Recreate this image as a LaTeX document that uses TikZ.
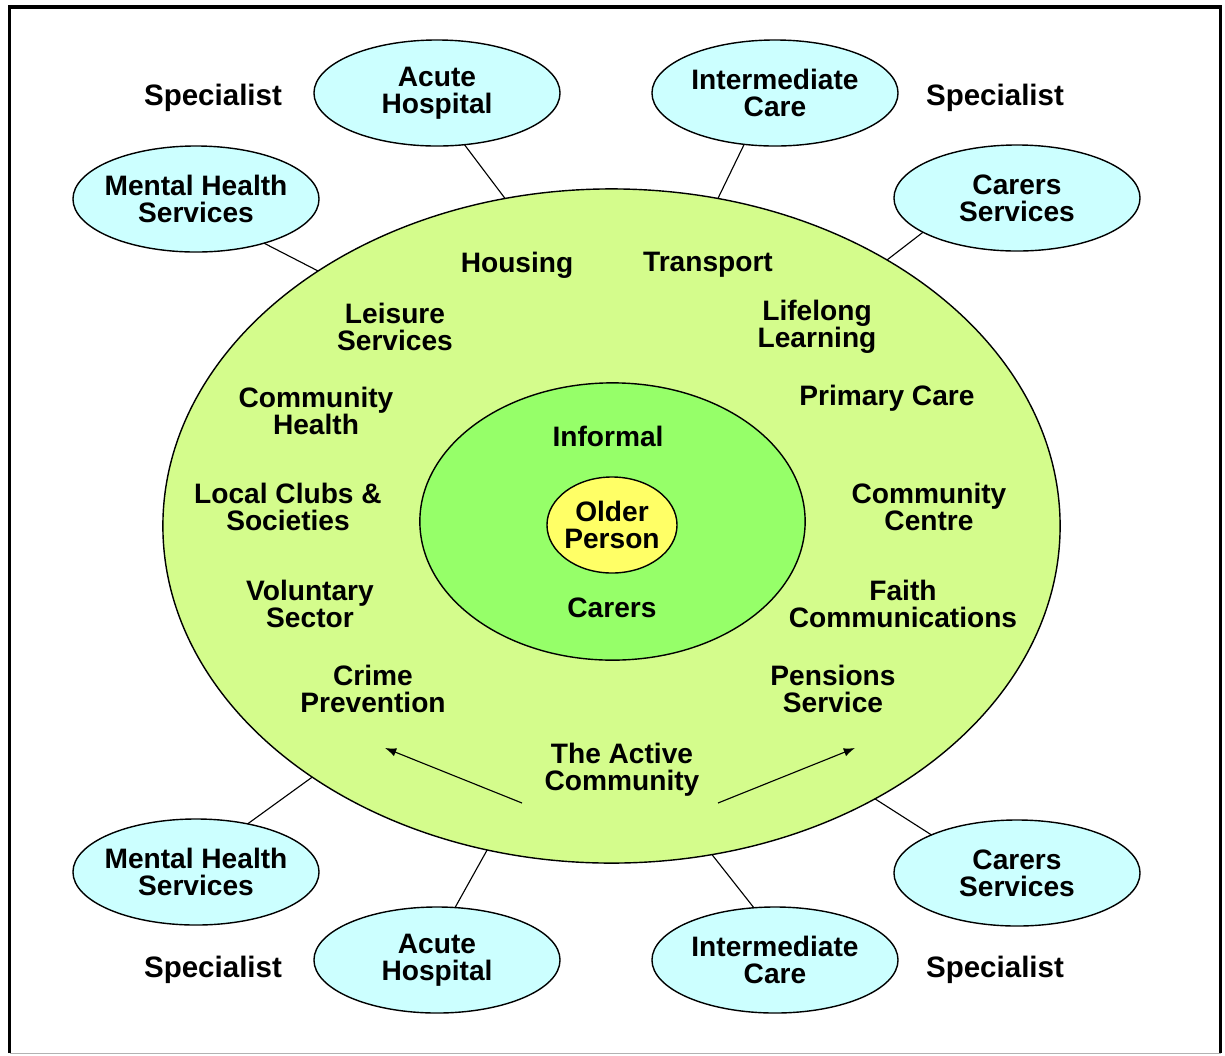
\documentclass[tikz,border=0pt]{standalone}
\usepackage{fontspec}
\setmainfont{Liberation Sans}
\usepackage{tikz}
\usetikzlibrary{shapes.geometric,arrows.meta}
\definecolor{activebg}{RGB}{212,252,140}
\definecolor{informalbg}{RGB}{150,255,105}
\definecolor{personbg}{RGB}{255,255,102}
\definecolor{servicebg}{RGB}{204,255,255}

\begin{document}
\begin{tikzpicture}[x=0.025cm, y=-0.025cm,
	every node/.style={font=\fontsize{20}{19.2}\selectfont\bfseries, align=center},
	ring/.style={ellipse, draw, line width=1pt, inner xsep=-0.2cm, inner ysep=0pt, outer sep=0pt},
	service/.style={ring, fill=servicebg, minimum width=6.15cm, minimum height=2.65cm},
	spoke/.style={line width=0.8pt},
	speclbl/.style={font=\fontsize{21}{21}\selectfont\bfseries}]
	\useasboundingbox (0,0) rectangle (1225,1055);

	% frame
	\draw [line width=2.5pt] (9.5,1053) -- (9.5,7) -- (1220.5,7) -- (1220.5,1053);
	\draw [gray!60, line width=0.6pt] (9.5,1053) -- (1220.5,1053);

	% the three rings
	\node [ring, fill=activebg, minimum width=22.425cm, minimum height=16.85cm] (community) at (611.5,526) {};
	\node [ring, fill=informalbg, minimum width=9.63cm, minimum height=6.93cm] (informal) at (612.5,521.5) {};
	\node [ring, fill=personbg, minimum width=3.25cm, minimum height=2.4cm] (older) at (612,525) {Older\\Person};

	\node (informalLbl) at (608,436) {Informal};
	\node (carersLbl) at (612,608) {Carers};

	% services in the active community
	\node (housing) at (517,265) {Housing};
	\node (transport) at (708,265) {Transport};
	\node (leisure) at (395,327) {Leisure\\Services};
	\node (lifelong) at (817,327) {Lifelong\\Learning};
	\node (commHealth) at (316,411) {Community\\Health};
	\node (primary) at (887,398) {Primary Care};
	\node (clubs) at (288,507) {Local Clubs \&\\Societies};
	\node (centre) at (929,507) {Community\\Centre};
	\node (voluntary) at (310,604) {Voluntary\\Sector};
	\node (faith) at (903,604) {Faith\\Communications};
	\node (crime) at (373,689) {Crime\\Prevention};
	\node (pensions) at (833,689) {Pensions\\Service};
	\node (active) at (622,770) {The Active\\Community};

	\coordinate (leftFrom) at (522,803);
	\coordinate (leftTo) at (385,748);
	\coordinate (rightFrom) at (718,803);
	\coordinate (rightTo) at (855,748);
	\draw [line width=0.8pt] [-{Latex[length=8pt,width=6pt]}] (leftFrom) -- (leftTo);
	\draw [line width=0.8pt] [-{Latex[length=8pt,width=6pt]}] (rightFrom) -- (rightTo);

	% specialist services, top
	\node [service] (mhTop) at (196,199) {Mental Health\\Services};
	\node [service] (acuteTop) at (437,93) {Acute\\Hospital};
	\node [service] (interTop) at (775,93) {Intermediate\\Care};
	\node [service] (carersTop) at (1017,198) {Carers\\Services};
	\node [speclbl] (specTL) at (213,98) {Specialist};
	\node [speclbl] (specTR) at (995,98) {Specialist};

	% specialist services, bottom
	\node [service] (mhBot) at (196,872) {Mental Health\\Services};
	\node [service] (acuteBot) at (437,960) {Acute\\Hospital};
	\node [service] (interBot) at (775,960) {Intermediate\\Care};
	\node [service] (carersBot) at (1017,873) {Carers\\Services};
	\node [speclbl] (specBL) at (213,970) {Specialist};
	\node [speclbl] (specBR) at (995,970) {Specialist};

	\draw [spoke] (mhTop.-33) -- (community.139);
	\draw [spoke] (acuteTop.-62) -- (community.108.5);
	\draw [spoke] (interTop.-121) -- (community.72.4);
	\draw [spoke] (carersTop.200) -- (community.44.5);
	\draw [spoke] (mhBot.43) -- (community.220);
	\draw [spoke] (acuteBot.71) -- (community.249.7);
	\draw [spoke] (interBot.112.5) -- (community.287.6);
	\draw [spoke] (carersBot.156) -- (community.314);
\end{tikzpicture}
\end{document}
